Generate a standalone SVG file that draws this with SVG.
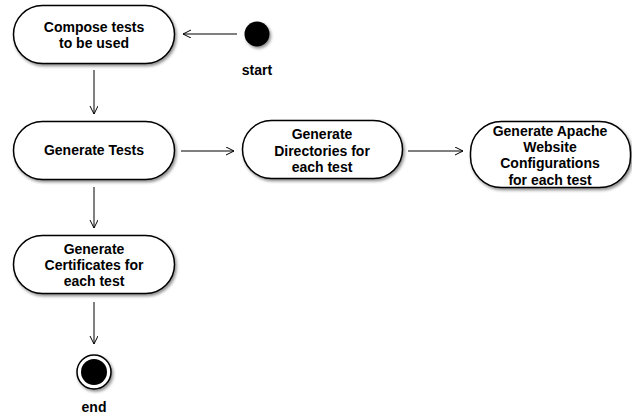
<svg xmlns="http://www.w3.org/2000/svg" width="632" height="415" viewBox="0 0 632 415">
<style>
.node rect{fill:#fff;stroke:#000;stroke-width:1.5;filter:url(#sh)}
text{font-family:"Liberation Sans",Arial,Helvetica,sans-serif;font-weight:bold;font-size:14px;fill:#000;text-anchor:middle}
.edge{stroke:#000;stroke-width:1;fill:none;marker-end:url(#arr)}
</style>
<defs>
<filter id="sh" x="-10%" y="-20%" width="125%" height="150%">
<feDropShadow dx="1.5" dy="2" stdDeviation="1.5" flood-color="#000" flood-opacity="0.45"/>
</filter>
<marker id="arr" markerWidth="10" markerHeight="10" refX="8" refY="4" orient="auto" markerUnits="userSpaceOnUse">
<path d="M0,0 L8,4 L0,8" fill="none" stroke="#000" stroke-width="1"/>
</marker>
</defs>
<g id="connectors">
<line class="edge" x1="237" y1="34" x2="183" y2="34"/>
<line class="edge" x1="94" y1="70" x2="94" y2="114"/>
<line class="edge" x1="181" y1="151" x2="234" y2="151"/>
<line class="edge" x1="408" y1="151" x2="463" y2="151"/>
<line class="edge" x1="94" y1="187" x2="94" y2="228"/>
<line class="edge" x1="94" y1="302" x2="94" y2="344"/>
</g>
<g id="start">
<circle cx="257" cy="34" r="12.5" fill="#000" style="filter:url(#sh)"/>
<text x="257" y="75">start</text>
</g>
<g id="compose" class="node">
<rect x="13.5" y="5.5" width="161" height="58" rx="29"/>
<text x="94" y="32">Compose tests</text>
<text x="94" y="48">to be used</text>
</g>
<g id="generate-tests" class="node">
<rect x="13.5" y="121.5" width="161" height="58" rx="29"/>
<text x="94" y="155">Generate Tests</text>
</g>
<g id="directories" class="node">
<rect x="242.5" y="120.5" width="160" height="58" rx="29"/>
<text x="322" y="139">Generate</text>
<text x="322" y="156">Directories for</text>
<text x="322" y="172">each test</text>
</g>
<g id="apache" class="node">
<rect x="470.5" y="121.5" width="160" height="66" rx="31"/>
<text x="550" y="136">Generate Apache</text>
<text x="550" y="152">Website</text>
<text x="550" y="168">Configurations</text>
<text x="550" y="185">for each test</text>
</g>
<g id="certificates" class="node">
<rect x="13.5" y="235.5" width="161" height="58" rx="29"/>
<text x="94" y="254">Generate</text>
<text x="94" y="270">Certificates for</text>
<text x="94" y="286">each test</text>
</g>
<g id="end">
<circle cx="94" cy="372" r="17" fill="#fff" stroke="#000" stroke-width="1.5" style="filter:url(#sh)"/>
<circle cx="94" cy="372" r="13" fill="#000"/>
<text x="94" y="412">end</text>
</g>
</svg>
